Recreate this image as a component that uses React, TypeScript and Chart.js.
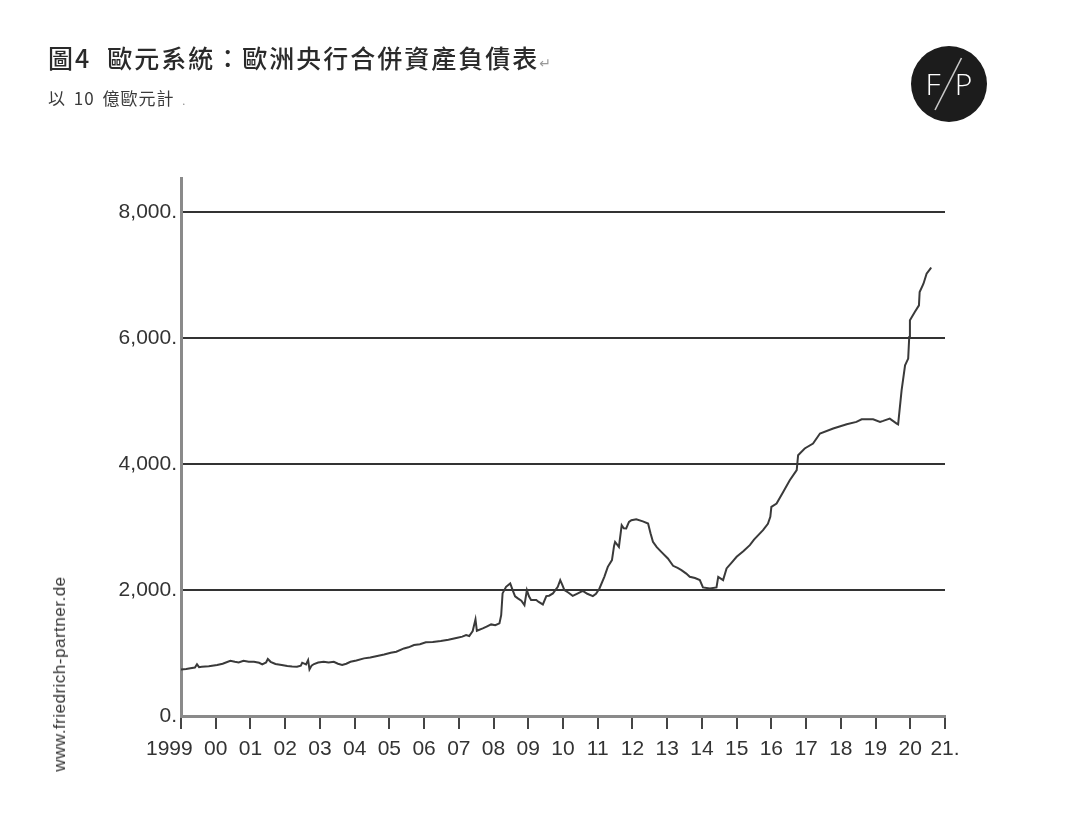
import React, { useEffect, useRef } from 'react';
import { Chart, registerables } from 'chart.js';

Chart.register(...registerables);

// Decimal year of each reading
const dates = [
  1999.0, 1999.15, 1999.27, 1999.4, 1999.46, 1999.52, 1999.6, 1999.8,
  2000.04, 2000.2, 2000.42, 2000.55, 2000.66, 2000.8, 2000.95,
  2001.1, 2001.25, 2001.34, 2001.45, 2001.5, 2001.58, 2001.72, 2001.9,
  2002.06, 2002.2, 2002.34, 2002.45, 2002.49, 2002.6, 2002.66, 2002.7, 2002.76, 2002.83, 2002.95,
  2003.11, 2003.25, 2003.4, 2003.52, 2003.64, 2003.76, 2003.88,
  2004.05, 2004.27, 2004.45, 2004.65, 2004.85,
  2005.04, 2005.2, 2005.42, 2005.55, 2005.71, 2005.88,
  2006.05, 2006.25, 2006.48, 2006.7, 2006.96,
  2007.1, 2007.21, 2007.3, 2007.4, 2007.48, 2007.52, 2007.69, 2007.8, 2007.93,
  2008.05, 2008.17, 2008.22, 2008.26, 2008.36, 2008.48, 2008.55, 2008.62, 2008.7, 2008.8, 2008.89, 2008.96,
  2009.02, 2009.08, 2009.23, 2009.3, 2009.42, 2009.52, 2009.6, 2009.71, 2009.85, 2009.92, 2009.98,
  2010.04, 2010.15, 2010.28, 2010.4, 2010.57, 2010.7, 2010.86, 2010.95,
  2011.05, 2011.19, 2011.29, 2011.41, 2011.47, 2011.5, 2011.61, 2011.69, 2011.75, 2011.82, 2011.9, 2011.97,
  2012.11, 2012.3, 2012.45, 2012.52, 2012.59, 2012.7, 2012.83,
  2013.02, 2013.17, 2013.3, 2013.41, 2013.55, 2013.65, 2013.8, 2013.94,
  2014.03, 2014.23, 2014.42, 2014.47, 2014.61, 2014.71, 2014.85,
  2015.0, 2015.2, 2015.38, 2015.5, 2015.76, 2015.9, 2015.97,
  2016.0, 2016.15, 2016.34, 2016.53, 2016.7, 2016.73, 2016.77, 2016.96,
  2017.2, 2017.4, 2017.78, 2018.17, 2018.45, 2018.6, 2018.93,
  2019.13, 2019.22, 2019.41, 2019.61, 2019.65, 2019.75, 2019.85, 2019.94, 2019.97, 2019.99,
  2020.13, 2020.25, 2020.27, 2020.38, 2020.47, 2020.58, 2020.6,
];

// Eurosystem consolidated balance sheet, billion EUR
const balance = [
  740, 745, 757, 770, 820, 775, 782, 790,
  809, 830, 877, 860, 851, 877, 860,
  861, 845, 820, 850, 904, 860, 825, 810,
  793, 785, 782, 800, 846, 820, 888, 740, 800, 825, 850,
  861, 850, 861, 830, 809, 830, 861,
  880, 915, 930, 952, 975,
  1004, 1020, 1073, 1090, 1126, 1140,
  1169, 1175, 1190, 1210, 1242,
  1260, 1285, 1270, 1348, 1534, 1353, 1391, 1420, 1454,
  1440, 1470, 1600, 1946, 2051, 2105, 1998, 1900, 1867, 1830, 1760, 1998,
  1900, 1840, 1840, 1810, 1771, 1903, 1910, 1946, 2050, 2157, 2080,
  1998, 1960, 1908, 1940, 1987, 1940, 1903, 1940,
  2025, 2209, 2368, 2474, 2700, 2764, 2685, 3029, 2980, 2977, 3080, 3108,
  3124, 3090, 3056, 2900, 2764, 2680, 2606,
  2501, 2384, 2350, 2316, 2260, 2209, 2190, 2157,
  2041, 2025, 2041, 2209, 2157, 2343, 2430,
  2527, 2620, 2712, 2800, 2950, 3050, 3161,
  3320, 3373, 3557, 3743, 3880, 3902, 4140, 4246,
  4325, 4484, 4563, 4631, 4668, 4710, 4710,
  4668, 4684, 4721, 4642, 4630, 5170, 5567, 5673, 6016, 6281,
  6413, 6519, 6730, 6862, 7021, 7100, 7120,
];

const yearLabels = [
  '1999    ', '00', '01', '02', '03', '04', '05', '06', '07', '08', '09', '10',
  '11', '12', '13', '14', '15', '16', '17', '18', '19', '20', '21.',
];

const yTicks = [0, 2000, 4000, 6000, 8000];
const yTickLabels = ['0.', '2,000.', '4,000.', '6,000.', '8,000.'];

const LATIN = "'Liberation Sans', Arial, sans-serif";
const CJK = "'Noto Sans CJK TC', 'Noto Sans CJK SC', sans-serif";

export default function App() {
  const ref = useRef<HTMLCanvasElement>(null);

  useEffect(() => {
    if (!ref.current) return;
    const chart = new Chart(ref.current, {
      type: 'line',
      data: {
        datasets: [
          {
            data: dates.map((d, i) => ({ x: d, y: balance[i] })),
            borderColor: '#3a3a3a',
            borderWidth: 2,
            pointRadius: 0,
            tension: 0,
            fill: false,
          },
        ],
      },
      options: {
        animation: false,
        responsive: false,
        layout: { padding: { left: 0, right: 123, top: 178, bottom: 0 } },
        plugins: { legend: { display: false }, tooltip: { enabled: false } },
        scales: {
          x: {
            type: 'linear',
            min: 1999,
            max: 2021,
            afterBuildTicks: (s: any) => {
              s.ticks = yearLabels.map((_, i) => ({ value: 1999 + i }));
            },
            afterFit: (s: any) => {
              s.height = 104;
            },
            grid: { drawOnChartArea: false, color: '#444', lineWidth: 2, tickLength: 13 },
            border: { color: '#8a8a8a', width: 3 },
            ticks: {
              autoSkip: false,
              maxRotation: 0,
              padding: 8,
              color: '#333',
              font: { family: LATIN, size: 21 },
              callback: (v: any) => yearLabels[Math.round(Number(v) - 1999)],
            },
          },
          y: {
            type: 'linear',
            min: 0,
            max: 8540,
            afterBuildTicks: (s: any) => {
              s.ticks = yTicks.map((v) => ({ value: v }));
            },
            afterFit: (s: any) => {
              s.width = 181;
            },
            grid: {
              drawTicks: false,
              lineWidth: 2,
              color: (ctx: any) => (ctx.tick && ctx.tick.value === 0 ? 'rgba(0,0,0,0)' : '#333'),
            },
            border: { color: '#8a8a8a', width: 3 },
            ticks: {
              padding: 4,
              color: '#333',
              font: { family: LATIN, size: 21 },
              callback: (v: any) => yTickLabels[yTicks.indexOf(Number(v))],
            },
          },
        },
      },
    } as any);
    return () => chart.destroy();
  }, []);

  return (
    <div style={{ position: 'absolute', left: 0, top: 0, width: 1068, height: 820, background: '#fff' }}>
      <canvas ref={ref} width={1068} height={820} style={{ position: 'absolute', left: 0, top: 0 }} />
      <div
        style={{
          position: 'absolute',
          left: 48,
          top: 45,
          fontFamily: CJK,
          fontSize: 25,
          lineHeight: 1,
          letterSpacing: 2,
          color: '#2a2a2a',
          whiteSpace: 'nowrap',
          fontWeight: 500,
        }}
      >
        <span style={{ marginRight: 16 }}>圖4</span>
        歐元系統：歐洲央行合併資產負債表
        <span style={{ fontFamily: "'DejaVu Sans', sans-serif", fontSize: 14, fontWeight: 400, color: '#999' }}>↵</span>
      </div>
      <div
        style={{
          position: 'absolute',
          left: 48,
          top: 89,
          fontFamily: CJK,
          fontSize: 17,
          lineHeight: 1,
          letterSpacing: 1,
          wordSpacing: 3,
          color: '#3a3a3a',
          whiteSpace: 'nowrap',
        }}
      >
        以 10 億歐元計 <span style={{ fontSize: 11, color: '#888' }}>.</span>
      </div>
      <div
        style={{
          position: 'absolute',
          left: 60,
          top: 674,
          transform: 'translate(-50%, -50%) rotate(-90deg)',
          fontFamily: LATIN,
          fontSize: 17,
          letterSpacing: 0.5,
          color: '#333',
          whiteSpace: 'nowrap',
        }}
      >
        www.friedrich-partner.de
      </div>
      <svg style={{ position: 'absolute', left: 910, top: 45 }} width={78} height={78} viewBox="0 0 78 78">
        <circle cx={39} cy={39} r={38} fill="#1c1c1c" />
        <text x={23} y={50} textAnchor="middle" fill="#fff" fontSize={30} fontWeight={300} fontFamily="'Open Sans', Lato, sans-serif">
          F
        </text>
        <line x1={51.5} y1={13} x2={25} y2={65} stroke="#c8c8c8" strokeWidth={1.6} />
        <text x={53.5} y={50} textAnchor="middle" fill="#fff" fontSize={30} fontWeight={300} fontFamily="'Open Sans', Lato, sans-serif">
          P
        </text>
      </svg>
    </div>
  );
}
